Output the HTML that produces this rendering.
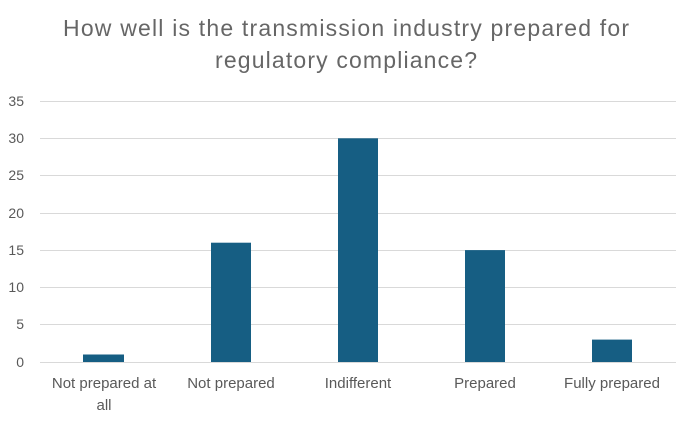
<!DOCTYPE html>
<html><head><style>
body{margin:0;background:#fff;width:689px;height:422px;overflow:hidden;font-family:"Liberation Sans",sans-serif;}
</style></head><body>
<svg width="689" height="422" xmlns="http://www.w3.org/2000/svg" font-family="Liberation Sans, sans-serif">
<text x="346" y="36" text-anchor="middle" font-size="23" fill="#666" textLength="566" lengthAdjust="spacing">How well is the transmission industry prepared for</text>
<text x="346" y="68" text-anchor="middle" font-size="23" fill="#666" textLength="262" lengthAdjust="spacing">regulatory compliance?</text>
<g stroke="#d9d9d9" stroke-width="1">
<line x1="40" x2="676" y1="101.5" y2="101.5"/>
<line x1="40" x2="676" y1="138.5" y2="138.5"/>
<line x1="40" x2="676" y1="175.5" y2="175.5"/>
<line x1="40" x2="676" y1="213.5" y2="213.5"/>
<line x1="40" x2="676" y1="250.5" y2="250.5"/>
<line x1="40" x2="676" y1="287.5" y2="287.5"/>
<line x1="40" x2="676" y1="324.5" y2="324.5"/>
<line x1="40" x2="676" y1="362.5" y2="362.5"/>
</g>
<g font-size="14" fill="#595959" text-anchor="end">
<text x="24" y="106">35</text><text x="24" y="143">30</text><text x="24" y="180">25</text>
<text x="24" y="218">20</text><text x="24" y="255">15</text><text x="24" y="292">10</text>
<text x="24" y="329">5</text><text x="24" y="367">0</text>
</g>
<g fill="#165e83">
<rect x="83" y="354.5" width="41" height="7.5"/>
<rect x="211" y="242.7" width="40" height="119.3"/>
<rect x="338" y="138.3" width="40" height="223.7"/>
<rect x="465" y="250.1" width="40" height="111.9"/>
<rect x="592" y="339.6" width="40" height="22.4"/>
</g>
<g font-size="15" fill="#595959" text-anchor="middle">
<text x="104" y="388">Not prepared at</text><text x="104" y="410">all</text>
<text x="231" y="388">Not prepared</text>
<text x="358" y="388">Indifferent</text>
<text x="485" y="388">Prepared</text>
<text x="612" y="388">Fully prepared</text>
</g>
</svg>
</body></html>
